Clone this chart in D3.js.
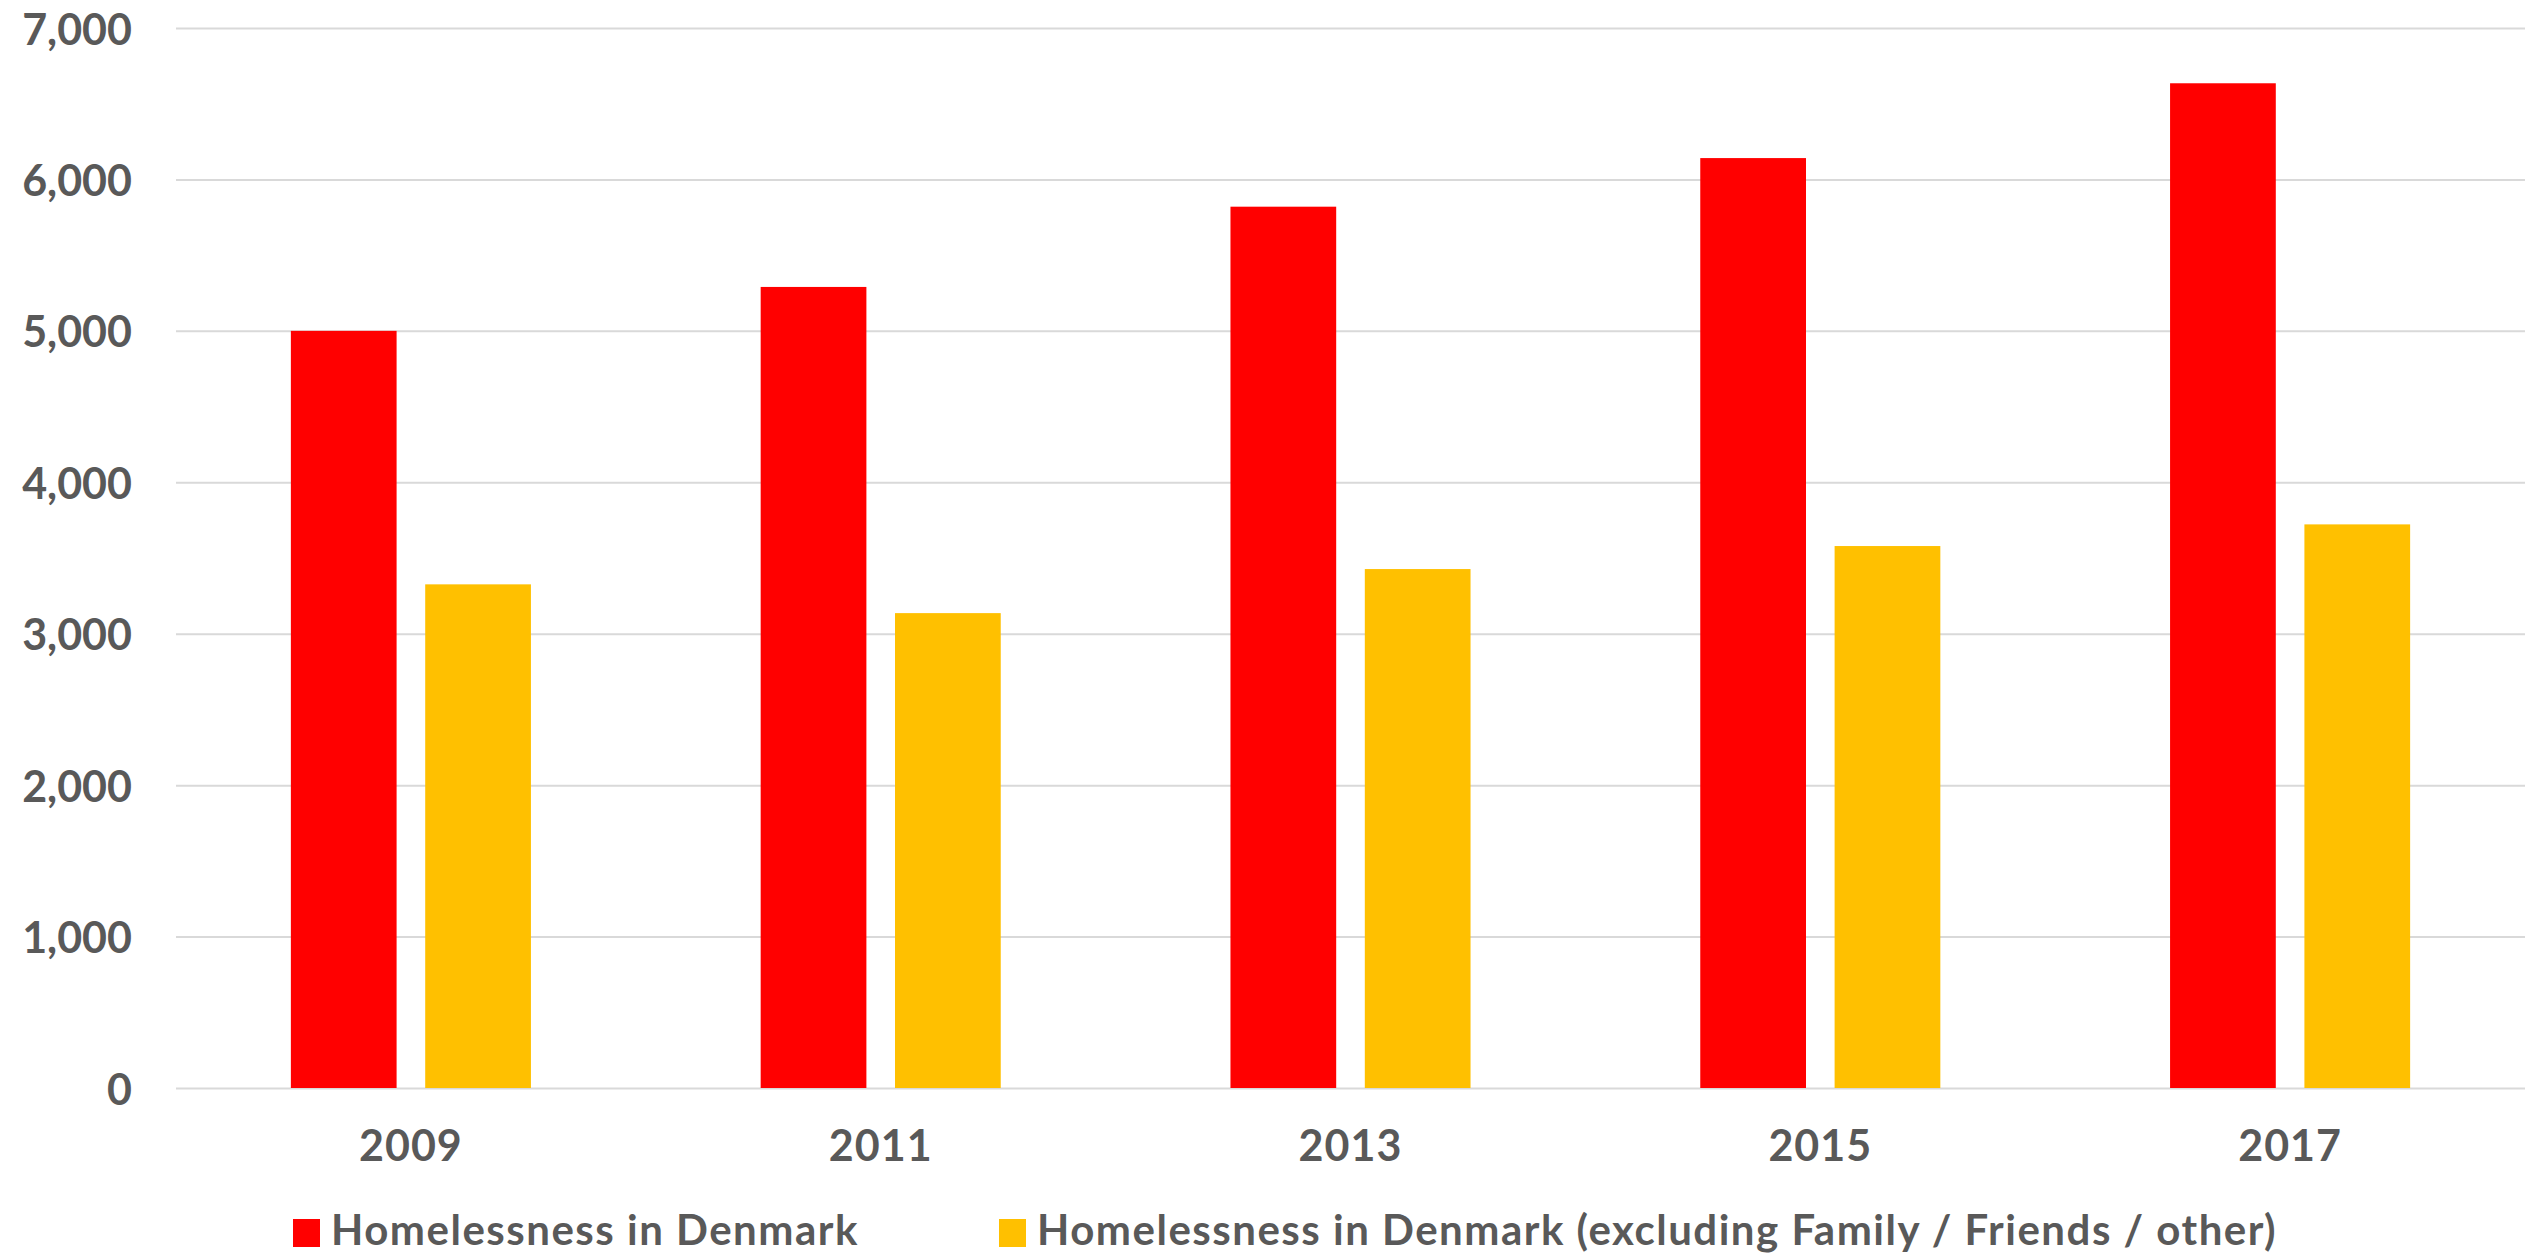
<!DOCTYPE html>
<html>
<head>
<meta charset="utf-8">
<script src="https://cdn.jsdelivr.net/npm/d3@7"></script>
<style>
  html, body { margin: 0; padding: 0; background: #ffffff; }
  svg { display: block; }
  text { font-family: Lato, "Open Sans", "DejaVu Sans", sans-serif; font-weight: 700; fill: #595959; }
</style>
</head>
<body>
<script>
// Homelessness counts in Denmark, by survey year
const years = ["2009", "2011", "2013", "2015", "2017"];
const seriesNames = [
  "Homelessness in Denmark",
  "Homelessness in Denmark (excluding Family / Friends / other)"
];
const totalHomeless = [5000, 5290, 5820, 6141, 6635];
const excludingFamilyFriends = [3326, 3136, 3427, 3579, 3722];
const seriesColors = ["#ff0000", "#ffc000"];
const yTicks = [0, 1000, 2000, 3000, 4000, 5000, 6000, 7000];

const seriesValues = [totalHomeless, excludingFamilyFriends];
const rows = years.map((y, i) => ({
  year: y,
  values: seriesNames.map((s, k) => ({ series: s, k, value: seriesValues[k][i] }))
}));

const W = 2539, H = 1255;
const plot = { left: 176, right: 2525, top: 28, bottom: 1088 };

const svg = d3.select("body").append("svg")
  .attr("width", W).attr("height", H);

const x0 = d3.scaleBand()
  .domain(years)
  .range([plot.left, plot.right])
  .paddingInner(0.489)
  .paddingOuter(0.2445);

const x1 = d3.scaleBand()
  .domain(seriesNames)
  .range([0, x0.bandwidth()])
  .paddingInner(0.213)
  .paddingOuter(0);

const y = d3.scaleLinear()
  .domain([0, 7000])
  .range([plot.bottom, plot.top]);

// horizontal gridlines
const yAxis = d3.axisLeft(y)
  .tickValues(yTicks)
  .tickSize(-(plot.right - plot.left))
  .tickFormat("");
const grid = svg.append("g")
  .attr("transform", `translate(${plot.left},0)`)
  .call(yAxis);
grid.select(".domain").remove();
grid.selectAll(".tick line")
  .attr("stroke", "#d9d9d9")
  .attr("stroke-width", 2);

// y tick labels
svg.append("g").selectAll("text")
  .data(yTicks)
  .join("text")
  .attr("x", 132)
  .attr("y", d => y(d))
  .attr("text-anchor", "end")
  .attr("dominant-baseline", "central")
  .attr("font-size", 43)
  .text(d => d3.format(",")(d));

// bars
const groups = svg.append("g").selectAll("g")
  .data(rows)
  .join("g")
  .attr("transform", d => `translate(${x0(d.year)},0)`);

groups.selectAll("rect")
  .data(d => d.values)
  .join("rect")
  .attr("x", d => x1(d.series))
  .attr("width", x1.bandwidth())
  .attr("y", d => y(d.value))
  .attr("height", d => y(0) - y(d.value))
  .attr("fill", d => seriesColors[d.k]);

// x category labels
svg.append("g").selectAll("text")
  .data(years)
  .join("text")
  .attr("x", d => x0(d) + x0.bandwidth() / 2)
  .attr("y", 1144)
  .attr("text-anchor", "middle")
  .attr("dominant-baseline", "central")
  .attr("font-size", 43)
  .attr("letter-spacing", 1)
  .text(d => d);

// legend
const legend = svg.append("g");
const legendX = [293, 999];
seriesNames.forEach((name, k) => {
  legend.append("rect")
    .attr("x", legendX[k])
    .attr("y", 1219)
    .attr("width", 27)
    .attr("height", 28)
    .attr("fill", seriesColors[k]);
  legend.append("text")
    .attr("x", legendX[k] + 38)
    .attr("y", 1245)
    .attr("font-size", 42)
    .attr("letter-spacing", 1.5)
    .text(name);
});
</script>
</body>
</html>
